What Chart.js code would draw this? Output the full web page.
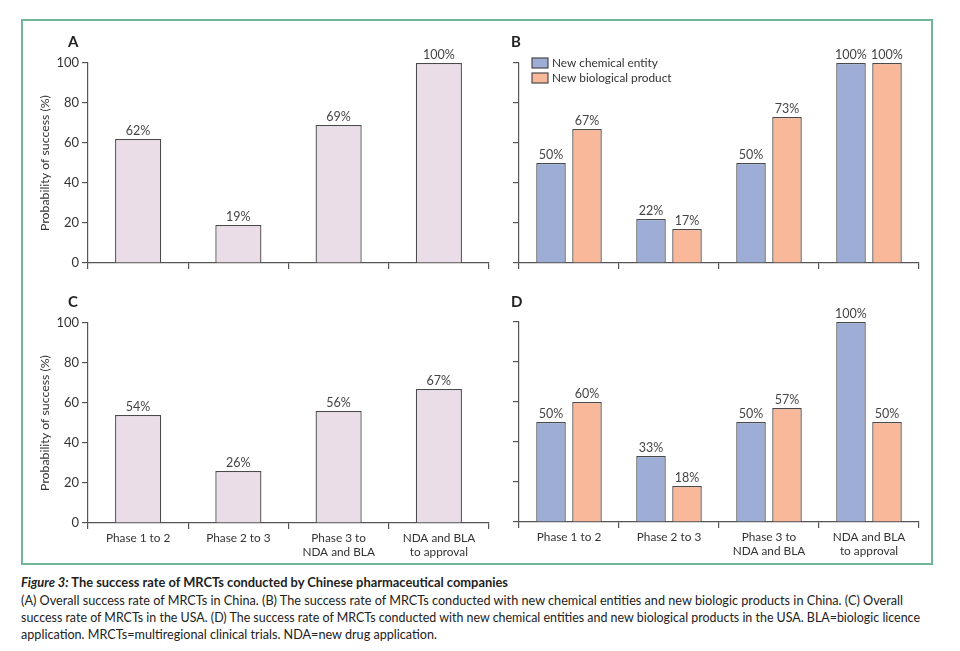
<!DOCTYPE html>
<html>
<head>
<meta charset="utf-8">
<script src="https://cdn.jsdelivr.net/npm/chart.js@4.4.0/dist/chart.umd.min.js"></script>
<style>
    body { margin: 0; background: #fff; width: 960px; height: 651px; position: relative; overflow: hidden; font-family: Lato, sans-serif; }
    .frame { position: absolute; left: 21px; top: 19px; width: 908px; height: 542px; border: 2px solid #6fb596; }
    canvas { position: absolute; }
    .cap { position: absolute; left: 21px; white-space: nowrap; color: #222; transform-origin: 0 50%; }
    .cap1 { top: 574px; font-size: 13.5px; font-weight: bold; }
    .cap2 { top: 592px; font-size: 13px; }
    .cap3 { top: 609px; font-size: 13px; }
    .cap4 { top: 626px; font-size: 13px; }
</style>
</head>
<body>
<div class="frame"></div>
<canvas id="chartA" style="left:22px;top:22px;width:478px;height:270px" width="478" height="270"></canvas>
<canvas id="chartB" style="left:500px;top:22px;width:428px;height:270px" width="428" height="270"></canvas>
<canvas id="chartC" style="left:22px;top:292px;width:478px;height:268px" width="478" height="268"></canvas>
<canvas id="chartD" style="left:500px;top:292px;width:428px;height:268px" width="428" height="268"></canvas>

<div class="cap cap1" data-w="487"><i>Figure 3:</i> The success rate of MRCTs conducted by Chinese pharmaceutical companies</div>
<div class="cap cap2" data-w="882">(A) Overall success rate of MRCTs in China. (B) The success rate of MRCTs conducted with new chemical entities and new biologic products in China. (C) Overall</div>
<div class="cap cap3" data-w="899">success rate of MRCTs in the USA. (D) The success rate of MRCTs conducted with new chemical entities and new biological products in the USA. BLA=biologic licence</div>
<div class="cap cap4" data-w="416">application. MRCTs=multiregional clinical trials. NDA=new drug application.</div>

<script>
// Phase transitions (x axis)
const phases = ['Phase 1 to 2', 'Phase 2 to 3', ['Phase 3 to', 'NDA and BLA'], ['NDA and BLA', 'to approval']];
const yTicks = [0, 20, 40, 60, 80, 100];

// A: overall, China
const chinaOverall = [62, 19, 69, 100];
// B: by product type, China
const chinaChemical = [50, 22, 50, 100];
const chinaBiological = [67, 17, 73, 100];
// C: overall, USA
const usaOverall = [54, 26, 56, 67];
// D: by product type, USA
const usaChemical = [50, 33, 50, 100];
const usaBiological = [60, 18, 57, 50];

const seriesNames = ['New chemical entity', 'New biological product'];

const PINK = '#eadde8';
const BLUE = '#9dadd6';
const ORANGE = '#f9b89a';
const EDGE = '#4a4a4a';
const AXIS = '#555';

// value labels above each bar
const valueLabels = {
    id: 'valueLabels',
    afterDatasetsDraw(chart) {
        const ctx = chart.ctx;
        ctx.save();
        ctx.font = '12.5px Lato';
        ctx.fillStyle = '#444';
        ctx.textAlign = 'center';
        ctx.textBaseline = 'bottom';
        chart.data.datasets.forEach((ds, i) => {
            chart.getDatasetMeta(i).data.forEach((bar, j) => {
                ctx.fillText(ds.data[j] + '%', bar.x, bar.y - 2);
            });
        });
        ctx.restore();
    }
};

// panel letter + optional legend
const panelDecor = {
    id: 'panelDecor',
    afterDraw(chart, args, opts) {
        const ctx = chart.ctx;
        const area = chart.chartArea;
        ctx.save();
        ctx.font = 'bold 15px Lato';
        ctx.fillStyle = '#222';
        ctx.textAlign = 'left';
        ctx.textBaseline = 'middle';
        ctx.fillText(opts.letter, opts.lx, opts.ly);

        if (opts.legend) {
            ctx.font = '11.8px Lato';
            chart.data.datasets.forEach((ds, i) => {
                const y = area.top - 5 + i * 15;
                ctx.fillStyle = ds.backgroundColor;
                ctx.fillRect(area.left + 13, y, 16, 10);
                ctx.strokeStyle = EDGE;
                ctx.lineWidth = 1.2;
                ctx.strokeRect(area.left + 13, y, 16, 10);
                ctx.fillStyle = '#333';
                ctx.fillText(ds.label, area.left + 33, y + 5);
            });
        }
        ctx.restore();
    }
};

function makeChart(id, opts) {
    const ctx = document.getElementById(id).getContext('2d');
    return new Chart(ctx, {
        type: 'bar',
        data: {
            labels: phases,
            datasets: opts.datasets
        },
        options: {
            responsive: false,
            animation: false,
            layout: { padding: { top: opts.padTop, right: opts.padRight, left: 0, bottom: 0 } },
            plugins: {
                legend: { display: false },
                tooltip: { enabled: false },
                panelDecor: { letter: opts.letter, lx: opts.lx, ly: opts.ly, legend: opts.legend }
            },
            scales: {
                x: {
                    offset: true,
                    grid: { display: true, drawOnChartArea: false, drawTicks: true, tickLength: 6, color: AXIS, offset: true, lineWidth: 1.2 },
                    border: { display: true, color: AXIS, width: 1.2 },
                    ticks: {
                        display: opts.xLabels,
                        color: '#333',
                        font: { family: 'Lato', size: 11.8 },
                        padding: 2,
                        maxRotation: 0,
                        autoSkip: false
                    },
                    afterFit: (s) => { s.height = opts.xHeight; }
                },
                y: {
                    min: 0,
                    max: 100,
                    afterBuildTicks: (s) => { s.ticks = yTicks.map(v => ({ value: v })); },
                    grid: { drawOnChartArea: false, drawTicks: true, tickLength: 6, color: AXIS, lineWidth: 1.2 },
                    border: { display: true, color: AXIS, width: 1.2 },
                    ticks: {
                        display: opts.yLabels,
                        color: '#333',
                        font: { family: 'Lato', size: 13 },
                        padding: 3
                    },
                    title: {
                        display: opts.yLabels,
                        text: 'Probability of success (%)',
                        color: '#333',
                        font: { family: 'Lato', size: 12.3 },
                        padding: { top: 16, bottom: 0 }
                    },
                    afterFit: (s) => { s.width = opts.yWidth; }
                }
            }
        },
        plugins: [valueLabels, panelDecor]
    });
}

function single(values) {
    return [{
        data: values,
        backgroundColor: PINK,
        borderColor: EDGE,
        borderWidth: 1.3,
        categoryPercentage: 0.46,
        barPercentage: 1
    }];
}

function paired(chem, bio) {
    return [
        { label: seriesNames[0], data: chem, backgroundColor: BLUE, borderColor: EDGE, borderWidth: 1.3, categoryPercentage: 0.72, barPercentage: 0.82 },
        { label: seriesNames[1], data: bio, backgroundColor: ORANGE, borderColor: EDGE, borderWidth: 1.3, categoryPercentage: 0.72, barPercentage: 0.82 }
    ];
}

makeChart('chartA', { datasets: single(chinaOverall), padTop: 41, padRight: 11, xHeight: 29, yWidth: 66, xLabels: false, yLabels: true, letter: 'A', lx: 46, ly: 20 });
makeChart('chartB', { datasets: paired(chinaChemical, chinaBiological), padTop: 41, padRight: 9, xHeight: 29, yWidth: 19, xLabels: false, yLabels: false, letter: 'B', lx: 11, ly: 20, legend: true });
makeChart('chartC', { datasets: single(usaOverall), padTop: 31, padRight: 11, xHeight: 37, yWidth: 66, xLabels: true, yLabels: true, letter: 'C', lx: 46, ly: 10 });
makeChart('chartD', { datasets: paired(usaChemical, usaBiological), padTop: 30, padRight: 9, xHeight: 38, yWidth: 19, xLabels: true, yLabels: false, letter: 'D', lx: 11, ly: 10 });

// squeeze caption lines to the width they take in the figure
document.querySelectorAll('.cap').forEach(el => {
    const target = parseFloat(el.dataset.w);
    const w = el.getBoundingClientRect().width;
    el.style.transform = `scaleX(${target / w})`;
});
</script>
</body>
</html>
